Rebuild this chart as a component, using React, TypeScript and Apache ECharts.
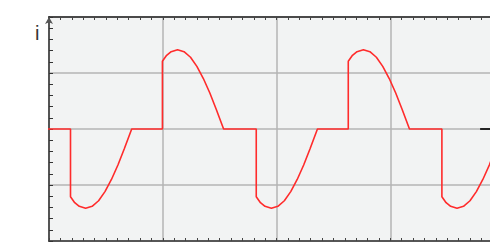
import React, { useEffect, useRef } from "react";
import * as echarts from "echarts";

// time axis in grid units (one major division = 1), current in grid units
const timeValues = [
  -0.035, 0.189,
  0.189, 0.226, 0.266, 0.322, 0.379, 0.436, 0.492, 0.549, 0.606, 0.662, 0.727,
  0.997,
  0.997, 1.034, 1.074, 1.130, 1.187, 1.244, 1.300, 1.357, 1.414, 1.470, 1.535,
  1.822,
  1.822, 1.859, 1.899, 1.955, 2.012, 2.069, 2.125, 2.182, 2.239, 2.295, 2.360,
  2.631,
  2.631, 2.668, 2.708, 2.764, 2.821, 2.878, 2.934, 2.991, 3.048, 3.104, 3.169,
  3.454,
  3.454, 3.491, 3.531, 3.587, 3.644, 3.701, 3.757, 3.814, 3.871, 3.927, 3.992,
];
const currentValues = [
  0, 0,
  -1.21, -1.316, -1.381, -1.415, -1.381, -1.281, -1.118, -0.901, -0.642, -0.352, 0,
  0,
  1.21, 1.316, 1.381, 1.415, 1.381, 1.281, 1.118, 0.901, 0.642, 0.352, 0,
  0,
  -1.21, -1.316, -1.381, -1.415, -1.381, -1.281, -1.118, -0.901, -0.642, -0.352, 0,
  0,
  1.21, 1.316, 1.381, 1.415, 1.381, 1.281, 1.118, 0.901, 0.642, 0.352, 0,
  0,
  -1.21, -1.316, -1.381, -1.415, -1.381, -1.281, -1.118, -0.901, -0.642, -0.352, 0,
];
const axisTipTime = [3.79, 4.0];
const axisTipCurrent = [0, 0];
const yAxisName = "i";

export default function App() {
  const ref = useRef<HTMLDivElement>(null);
  useEffect(() => {
    if (!ref.current) return;
    const chart = echarts.init(ref.current, null, { renderer: "svg" });
    const wave = timeValues.map((t, i) => [t, currentValues[i]]);
    const tip = axisTipTime.map((t, i) => [t, axisTipCurrent[i]]);
    const xCommon = {
      type: "value",
      min: 0,
      max: 4,
      interval: 1,
      axisLabel: { show: false },
      axisTick: { show: true, inside: true, length: 3, lineStyle: { color: "#444", width: 1 } },
      minorTick: { show: true, splitNumber: 10, length: 3, lineStyle: { color: "#444", width: 1 } },
    };
    chart.setOption({
      animation: false,
      backgroundColor: "#ffffff",
      grid: {
        left: 49,
        top: 17,
        width: 455,
        height: 224,
        outerBoundsMode: "none",
        containLabel: false,
        show: true,
        backgroundColor: "#f2f3f3",
        borderWidth: 0,
      },
      xAxis: [
        {
          ...xCommon,
          position: "bottom",
          axisLine: { show: true, onZero: false, lineStyle: { color: "#333", width: 1.5 } },
          splitLine: { show: true, lineStyle: { color: "#b5b5b5", width: 1.5 } },
        },
        {
          ...xCommon,
          position: "top",
          axisLine: { show: true, onZero: false, lineStyle: { color: "#222", width: 1.5 } },
          splitLine: { show: false },
        },
      ],
      yAxis: {
        type: "value",
        min: -2,
        max: 2,
        interval: 1,
        axisLabel: { show: false },
        axisLine: {
          show: true,
          onZero: false,
          symbol: ["none", "arrow"],
          symbolSize: [6, 7],
          lineStyle: { color: "#555", width: 2 },
        },
        axisTick: { show: true, inside: true, length: 4, lineStyle: { color: "#333", width: 1 } },
        minorTick: { show: true, splitNumber: 5, length: 4, lineStyle: { color: "#333", width: 1 } },
        splitLine: { show: true, lineStyle: { color: "#b5b5b5", width: 1.5 } },
      },
      graphic: [
        {
          type: "text",
          left: 35,
          top: 23,
          style: {
            text: yAxisName,
            font: '20px "Liberation Sans", Arial, sans-serif',
            fill: "#333",
          },
        },
      ],
      series: [
        {
          type: "line",
          data: tip,
          xAxisIndex: 0,
          symbol: "none",
          clip: false,
          lineStyle: { color: "#111", width: 1.8 },
          silent: true,
        },
        {
          type: "line",
          data: wave,
          xAxisIndex: 0,
          symbol: "none",
          clip: false,
          lineStyle: { color: "#ff2b2b", width: 1.6 },
          silent: true,
          z: 3,
        },
      ],
    });
    return () => chart.dispose();
  }, []);
  return (
    <div
      ref={ref}
      style={{ position: "fixed", left: 0, top: 0, width: 490, height: 242 }}
    />
  );
}
